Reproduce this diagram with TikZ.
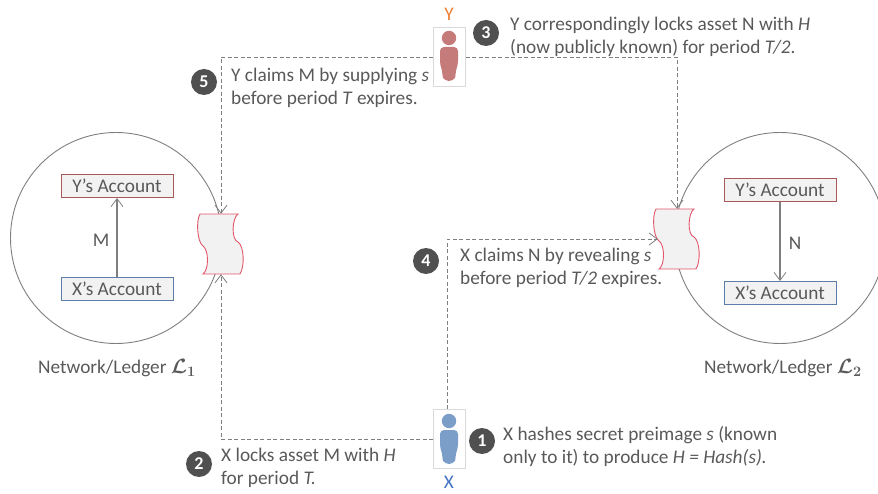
\documentclass[tikz,border=0pt]{standalone}
\usepackage{fontspec}
\setmainfont{Carlito}
\usetikzlibrary{arrows.meta}
\definecolor{txt}{HTML}{595959}
\definecolor{dk}{HTML}{505050}
\definecolor{ln}{HTML}{7F7F7F}
\definecolor{yb}{HTML}{A85A5A}
\definecolor{xb}{HTML}{5B7DA8}
\definecolor{yp}{HTML}{C67B7B}
\definecolor{xp}{HTML}{7B9EC8}
\definecolor{yl}{HTML}{ED7D31}
\definecolor{xl}{HTML}{4472C4}
\definecolor{sc}{HTML}{E2556A}
\tikzset{
 x=1pt,y=-1pt,
 every node/.style={font=\fontsize{19.3}{23}\selectfont,text=txt},
 ring/.style={circle,draw=ln,line width=0.9pt,minimum size=211pt,inner sep=0pt},
 yacct/.style={draw=yb,fill=black!5,line width=1pt,minimum width=112pt,minimum height=23pt,inner sep=0pt},
 xacct/.style={draw=xb,fill=black!5,line width=1pt,minimum width=112pt,minimum height=23pt,inner sep=0pt},
 flow/.style={draw=ln,line width=1.2pt,-{Straight Barb[length=8pt,width=12pt,line width=0.8pt]}},
 link/.style={draw=ln,line width=0.8pt,dash pattern=on 4pt off 2.5pt,-{Straight Barb[length=8pt,width=12pt,line width=0.8pt]}},
 num/.style={circle,fill=dk,text=white,font=\fontsize{18}{18}\selectfont\bfseries,minimum size=26pt,inner sep=0pt},
 note/.style={align=left,anchor=west,inner sep=0pt},
 pbox/.style={draw=black!15,fill=white,line width=0.7pt,minimum width=32pt,minimum height=59pt,inner sep=0pt},
 tape/.style={minimum width=38pt,minimum height=60pt,inner sep=0pt},
 scroll/.style={draw=sc,fill=black!5,line width=0.9pt},
}
\newcommand{\scrollat}[2]{%
 \path[scroll] (#1-21,#2-30) -- (#1+17,#2-30)
  .. controls (#1+11,#2-26) and (#1+10,#2-4) .. (#1+17,#2-2)
  .. controls (#1+23,#2+2) and (#1+24,#2+22) .. (#1+19,#2+30)
  -- (#1-18,#2+30)
  .. controls (#1-12,#2+26) and (#1-12,#2+6) .. (#1-18,#2+2)
  .. controls (#1-24,#2-2) and (#1-25,#2-24) .. (#1-21,#2-30) -- cycle;}
\newcommand{\personat}[3]{%
 \fill[#3] (#1,#2-18) circle (7.2);
 \fill[#3,rounded corners=4pt] (#1-9,#2-9) -- (#1+9,#2-9) -- (#1+9,#2+9)
   .. controls (#1+7,#2+14) and (#1+6,#2+22) .. (#1+4,#2+25) -- (#1-4,#2+25)
   .. controls (#1-6,#2+22) and (#1-7,#2+14) .. (#1-9,#2+9) -- cycle;}
\newcommand{\LL}[1]{{\boldmath$\mathcal{L}_{\mathbf{#1}}$}}
\begin{document}
\begin{tikzpicture}
\useasboundingbox (0,0) rectangle (878,494);
\clip (0,0) rectangle (878,494);
% rings
\node[ring] (r1) at (116,238) {};
\node[ring] (r2) at (780,238) {};
% accounts
\node[yacct] (ya1) at (117,186) {Y’s Account};
\node[xacct] (xa1) at (117,289) {X’s Account};
\node[yacct] (ya2) at (780,190) {Y’s Account};
\node[xacct] (xa2) at (780,293) {X’s Account};
\draw[flow] (xa1) -- (ya1);
\draw[flow] (ya2) -- (xa2);
\node (ml) at (101,240) {M};
\node (nl) at (795,243) {N};
% ledgers
\scrollat{221}{244}
\scrollat{677}{239}
\node[tape] (t1) at (221,244) {};
\node[tape] (t2) at (677,239) {};
% people
\node[pbox] (py) at (449.5,57) {};
\node[pbox] (px) at (449.5,439) {};
\personat{449}{56}{yp}
\personat{449}{439}{xp}
\node[text=yl] (ly) at (449,14) {Y};
\node[text=xl] (lx) at (449,482) {X};
% links
\draw[link] (py.west) -| (t1.north);
\draw[link] (py.east) -| (t2.north);
\draw[link] (px.west) -| (t1.south);
\draw[link] ([xshift=-2pt]px.north) |- (t2.west);
% numbers
\node[num] (n1) at (482,441) {1};
\node[num] (n2) at (199,464) {2};
\node[num] (n3) at (486,33) {3};
\node[num] (n4) at (426,261) {4};
\node[num] (n5) at (204,82) {5};
% notes
\node[note] (t1a) at (503,446) {X hashes secret preimage \textit{s} (known\\only to it) to produce \textit{H = Hash(s).}};
\node[note] (t2a) at (221,468) {X locks asset M with \textit{H}\\for period \textit{T.}};
\node[note] (t3a) at (510,37) {Y correspondingly locks asset N with \textit{H}\\(now publicly known) for period \textit{T/2}.};
\node[note] (t4a) at (460,268) {X claims N by revealing \textit{s}\\before period \textit{T/2} expires.};
\node[note] (t5a) at (231,88) {Y claims M by supplying \textit{s}\\before period \textit{T} expires.};
\node (c1) at (117,368) {Network/Ledger \LL{1}};
\node (c2) at (783,368) {Network/Ledger \LL{2}};
\end{tikzpicture}
\end{document}
